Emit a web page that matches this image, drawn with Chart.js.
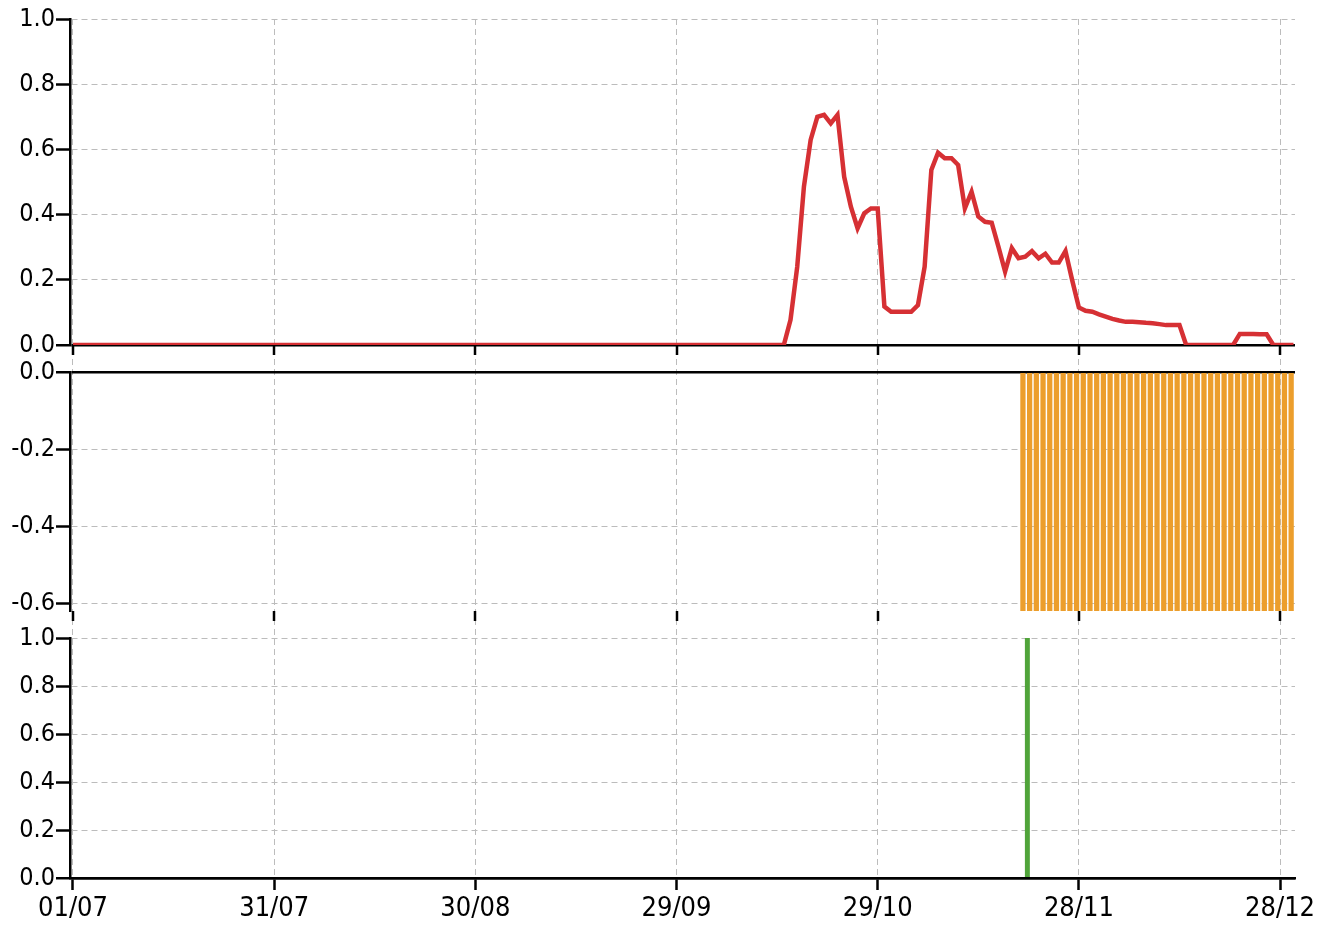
<!DOCTYPE html>
<html lang="en"><head>
<meta charset="UTF-8">
<title>Three panel daily series</title>
<script src="https://cdn.jsdelivr.net/npm/chart.js@4.4.1/dist/chart.umd.min.js"></script>
<style>
  body { margin:0; background:#ffffff; }
  #chart { position:absolute; left:0; top:0; }
</style>
</head>
<body>
<canvas id="chart" width="1330" height="925"></canvas>
<script>
// x values are days counted from 01/07
const tickDays   = [0, 30, 60, 90, 120, 150, 180];
const tickLabels = ['01/07', '31/07', '30/08', '29/09', '29/10', '28/11', '28/12'];

// top panel (red line)
const redDays = [0, 106, 107, 108, 109, 110, 111, 112, 113, 114, 115, 116, 117, 118, 119, 120,
  121, 122, 123, 124, 125, 126, 127, 128, 129, 130, 131, 132, 133, 134, 135, 136, 137, 138,
  139, 140, 141, 142, 143, 144, 145, 146, 147, 148, 149, 150, 151, 152, 153, 154, 155, 156,
  157, 158, 159, 160, 161, 162, 163, 164, 165, 166, 173, 174, 175, 176, 177, 178, 179, 182];
const redValues = [0, 0, 0.077, 0.24, 0.486, 0.629, 0.70, 0.706, 0.68, 0.706, 0.516, 0.424, 0.358, 0.404, 0.419, 0.419,
  0.118, 0.102, 0.102, 0.102, 0.102, 0.122, 0.24, 0.537, 0.59, 0.573, 0.573, 0.552, 0.419, 0.47, 0.394, 0.378, 0.375, 0.302,
  0.225, 0.297, 0.266, 0.271, 0.288, 0.266, 0.28, 0.253, 0.253, 0.288, 0.199, 0.115, 0.105, 0.102, 0.094, 0.087, 0.080, 0.075,
  0.071, 0.071, 0.070, 0.068, 0.067, 0.064, 0.061, 0.061, 0.061, 0, 0, 0.034, 0.034, 0.034, 0.033, 0.033, 0, 0];

// middle panel (orange bars)
const orangeDays = [142, 143, 144, 145, 146, 147, 148, 149, 150, 151, 152, 153, 154, 155,
  156, 157, 158, 159, 160, 161, 162, 163, 164, 165, 166, 167, 168, 169, 170, 171, 172, 173,
  174, 175, 176, 177, 178, 179, 180, 181, 182];
const orangeValues = [-0.62, -0.62, -0.62, -0.62, -0.62, -0.62, -0.62, -0.62, -0.62, -0.62, -0.62,
  -0.62, -0.62, -0.62, -0.62, -0.62, -0.62, -0.62, -0.62, -0.62, -0.62, -0.62, -0.62, -0.62, -0.62,
  -0.62, -0.62, -0.62, -0.62, -0.62, -0.62, -0.62, -0.62, -0.62, -0.62, -0.62, -0.62, -0.62, -0.62,
  -0.62, -0.62];

// bottom panel (green bar)
const greenDays = [142];
const greenValues = [1.0];

const topTicks = [0, 0.2, 0.4, 0.6, 0.8, 1.0];
const midTicks = [-0.6, -0.4, -0.2, 0];
const botTicks = [0, 0.2, 0.4, 0.6, 0.8, 1.0];

function pts(xs, ys) {
  return xs.map((d, i) => ({x: d, y: ys[i]}));
}

Chart.defaults.font.family = 'DejaVu Sans Condensed';
Chart.defaults.color = '#000';

const gridGrey = '#bcbcbc';

function yAxis(tickList, min, max, stackWeight, weight) {
  return {
    type: 'linear',
    position: 'left',
    stack: 'panels',
    stackWeight: stackWeight,
    weight: weight,
    min: min,
    max: max,
    afterBuildTicks: (s) => { s.ticks = tickList.map(v => ({value: v})); },
    afterFit: (s) => { s.width = 70; s.paddingTop = 0; s.paddingBottom = 0; },
    ticks: {
      font: {size: 25},
      color: '#000',
      padding: 1,
      autoSkip: false,
      callback: (v) => Number(v).toFixed(1)
    },
    grid: {
      color: (c) => (c.tick && c.tick.value === 0) ? '#000' : gridGrey,
      lineWidth: (c) => (c.tick && c.tick.value === 0) ? 2.5 : 1,
      tickColor: '#000',
      tickLength: 14,
      tickWidth: 2.5
    },
    border: {
      display: true,
      color: '#000',
      width: 2.5,
      dash: (c) => (c.tick && c.tick.value === 0) ? [] : [6, 4]
    }
  };
}

function spacer(stackWeight, weight) {
  return {type: 'linear', position: 'left', stack: 'panels', stackWeight: stackWeight, weight: weight, display: false};
}

// small tick marks under the top and middle panels
const panelTicks = {
  id: 'panelTicks',
  afterDatasetsDraw(chart) {
    const ctx = chart.ctx, xs = chart.scales.x;
    ctx.save();
    ctx.strokeStyle = '#000';
    ctx.lineWidth = 2.5;
    ['yTop', 'yMid'].forEach(id => {
      const y0 = chart.scales[id].bottom;
      xs.ticks.forEach(t => {
        const px = Math.round(xs.getPixelForValue(t.value));
        ctx.beginPath();
        ctx.moveTo(px, y0);
        ctx.lineTo(px, y0 + 10);
        ctx.stroke();
      });
    });
    ctx.restore();
  }
};

new Chart(document.getElementById('chart'), {
  type: 'bar',
  data: {
    datasets: [
      {
        type: 'line',
        label: 'red',
        data: pts(redDays, redValues),
        yAxisID: 'yTop',
        borderColor: '#d63034',
        borderWidth: 4.5,
        pointRadius: 0,
        tension: 0,
        fill: false
      },
      {
        label: 'orange',
        data: pts(orangeDays, orangeValues),
        yAxisID: 'yMid',
        backgroundColor: '#ec9e2c',
        barThickness: 4.6,
        borderWidth: 0
      },
      {
        label: 'green',
        data: pts(greenDays, greenValues),
        yAxisID: 'yBot',
        backgroundColor: '#50a43a',
        barThickness: 4.3,
        borderWidth: 0
      }
    ]
  },
  options: {
    responsive: false,
    animation: false,
    layout: {padding: {top: 19, right: 35, bottom: 0, left: 0}},
    plugins: {legend: {display: false}, tooltip: {enabled: false}},
    scales: {
      x: {
        type: 'linear',
        position: 'bottom',
        offset: false,
        min: -0.447,
        max: 182.23,
        afterBuildTicks: (s) => { s.ticks = tickDays.map(v => ({value: v})); },
        afterFit: (s) => { s.height = 47; s.paddingLeft = 0; s.paddingRight = 0; },
        ticks: {
          font: {size: 27},
          color: '#000',
          padding: 3,
          maxRotation: 0,
          autoSkip: false,
          callback: (v, i) => tickLabels[i]
        },
        grid: {
          offset: false,
          color: gridGrey,
          lineWidth: 1,
          tickColor: '#000',
          tickLength: 12,
          tickWidth: 2.5
        },
        border: {display: true, color: '#000', width: 2.5, dash: [6, 4]}
      },
      yTop: yAxis(topTicks, 0, 1, 326, 5),
      gap1: spacer(27, 4),
      yMid: yAxis(midTicks, -0.62, 0, 239, 3),
      gap2: spacer(27, 2),
      yBot: yAxis(botTicks, 0, 1, 240, 1)
    }
  },
  plugins: [panelTicks]
});
</script>
</body></html>
